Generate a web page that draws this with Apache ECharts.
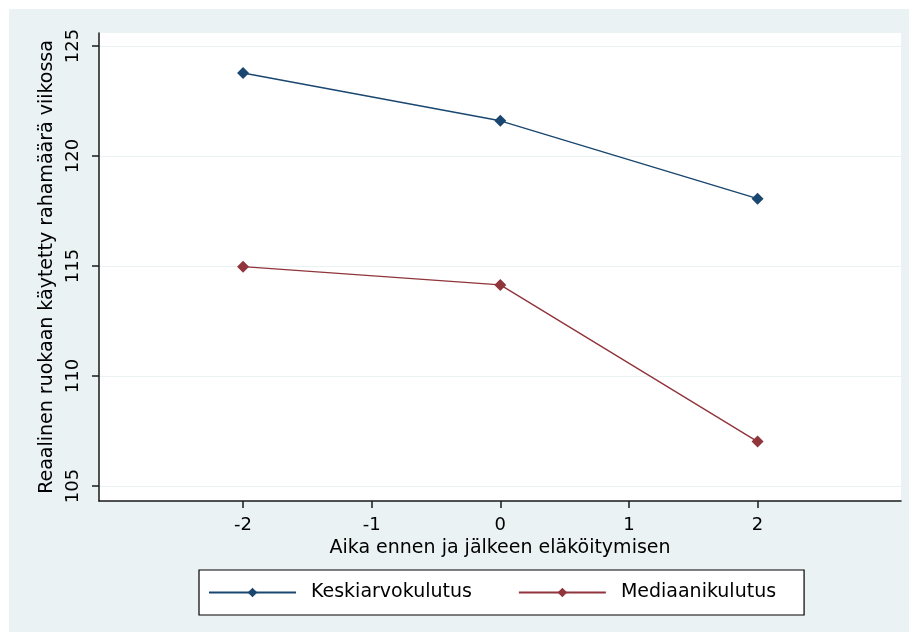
<!DOCTYPE html>
<html>
<head>
<meta charset="utf-8">
<script src="https://cdn.jsdelivr.net/npm/echarts@6/dist/echarts.min.js"></script>
<style>
html,body{margin:0;padding:0;background:#fff;}
#c{width:909px;height:633px;}
</style>
</head>
<body>
<div id="c"></div>
<script>
var xValues = [-2, 0, 2];
var keskiarvo = [123.77, 121.6, 118.06];
var mediaani = [114.97, 114.14, 107.02];
var seriesNames = ['Keskiarvokulutus', 'Mediaanikulutus'];
var yTicks = [105, 110, 115, 120, 125];
var xTicks = [-2, -1, 0, 1, 2];
var yTitle = 'Reaalinen ruokaan käytetty rahamäärä viikossa';
var xTitle = 'Aika ennen ja jälkeen eläköitymisen';

var FONT = 'DejaVu Sans';
function pairs(ys){ return xValues.map(function(x,i){ return [x, ys[i]]; }); }

var chart = echarts.init(document.getElementById('c'), null, {renderer:'canvas'});
chart.setOption({
  animation: false,
  backgroundColor: 'transparent',
  graphic: [{
    type: 'rect', z: -10, silent: true,
    shape: {x: 9, y: 9, width: 900, height: 623},
    style: {fill: '#EAF2F3'}
  }],
  grid: {left: 99, top: 33, width: 802, height: 468, show: true, backgroundColor: '#fff', borderWidth: 0},
  xAxis: {
    type: 'value', min: -3.12, max: 3.115,
    name: xTitle, nameLocation: 'middle', nameGap: 30,
    nameTextStyle: {fontFamily: FONT, fontSize: 19, color: '#000'},
    axisLine: {show: true, onZero: false, lineStyle: {color: '#1a1a1a', width: 1.5}},
    axisTick: {show: true, length: 7, lineStyle: {color: '#1a1a1a', width: 1.5}, customValues: xTicks},
    axisLabel: {fontFamily: FONT, fontSize: 18, color: '#000', margin: 15, customValues: xTicks},
    splitLine: {show: false}
  },
  yAxis: {
    type: 'value', min: 104.318, max: 125.591,
    name: yTitle, nameLocation: 'middle', nameGap: 42, nameRotate: 90,
    nameTextStyle: {fontFamily: FONT, fontSize: 19, color: '#000'},
    axisLine: {show: true, onZero: false, lineStyle: {color: '#1a1a1a', width: 1.5}},
    axisTick: {show: true, length: 7, lineStyle: {color: '#1a1a1a', width: 1.5}, customValues: yTicks},
    axisLabel: {fontFamily: FONT, fontSize: 18, color: '#000', margin: 17, rotate: 90, customValues: yTicks},
    splitLine: {show: true, lineStyle: {color: '#EAF2F3', width: 1.2}}
  },
  legend: {
    left: 199, top: 570,
    data: seriesNames,
    orient: 'horizontal',
    itemWidth: 87, itemHeight: 12, itemGap: 46,
    padding: [13, 28, 13, 9],
    backgroundColor: '#fff', borderColor: '#000', borderWidth: 1.2,
    textStyle: {fontFamily: FONT, fontSize: 19, color: '#000', padding: [0, 0, 0, 10]}
  },
  series: [
    {
      name: seriesNames[0], type: 'line', z: 3,
      data: pairs(keskiarvo),
      symbol: 'diamond', symbolSize: 12,
      itemStyle: {color: '#1a476f'},
      lineStyle: {color: '#1a476f', width: 1.4}
    },
    {
      name: seriesNames[1], type: 'line', z: 3,
      data: pairs(mediaani),
      symbol: 'diamond', symbolSize: 12,
      itemStyle: {color: '#90353b'},
      lineStyle: {color: '#90353b', width: 1.4}
    }
  ]
});
</script>
</body>
</html>
